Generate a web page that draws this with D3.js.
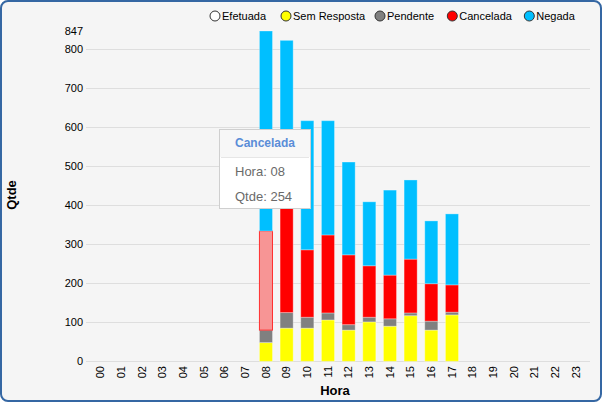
<!DOCTYPE html>
<html><head><meta charset="utf-8">
<script src="https://cdn.jsdelivr.net/npm/d3@7"></script>
<style>
html,body{margin:0;padding:0;background:#fff;}
svg{display:block;font-family:"Liberation Sans",Arial,sans-serif;}
</style></head>
<body><svg id="c" width="602" height="402"></svg>
<script>
const horas = ["00","01","02","03","04","05","06","07","08","09","10","11","12","13","14","15","16","17","18","19","20","21","22","23"];
const seriesNames = ["Efetuada","Sem Resposta","Pendente","Cancelada","Negada"];
const seriesColors = ["#ffffff","#ffff00","#808080","#ff0000","#00bfff"];
const efetuada    = [0,0,0,0,0,0,0,0,  0,  0,  0,  0,  0,  0,  0,  0,  0,  0,0,0,0,0,0,0];
const semResposta = [0,0,0,0,0,0,0,0, 48, 85, 85,106, 80,101, 90,117, 80,119,0,0,0,0,0,0];
const pendente    = [0,0,0,0,0,0,0,0, 32, 40, 28, 18, 14, 12, 19,  7, 23,  7,0,0,0,0,0,0];
const cancelada   = [0,0,0,0,0,0,0,0,254,360,173,200,179,132,112,138, 96, 70,0,0,0,0,0,0];
const negada      = [0,0,0,0,0,0,0,0,513,338,331,293,238,164,218,203,161,182,0,0,0,0,0,0];
const yTicks = [0,100,200,300,400,500,600,700,800];
const yMax = 847;
const tooltip = {series:"Cancelada", hora:"08", qtde:254};

const svg = d3.select("#c");
// frame
svg.append("rect").attr("x",1).attr("y",1).attr("width",600).attr("height",400)
  .attr("rx",7).attr("ry",7).attr("fill","#f5f5f5").attr("stroke","#3567a3").attr("stroke-width",2);

const x = d3.scaleBand().domain(horas).range([90.3,586.3]).paddingInner(0.32).paddingOuter(0.16);
const y = d3.scaleLinear().domain([0,yMax]).range([361.3,31]);

// grid
svg.append("g").selectAll("line").data(yTicks).join("line")
  .attr("x1",86).attr("x2",590).attr("y1",d=>Math.round(y(d))+0.5).attr("y2",d=>Math.round(y(d))+0.5)
  .attr("stroke","#dedede").attr("stroke-width",1);

// y axis labels
const yAxis = d3.axisLeft(y).tickValues(yTicks.concat([yMax])).tickSize(0).tickPadding(0).tickFormat(d3.format("d"));
const gy = svg.append("g").attr("transform","translate(83,0)").call(yAxis);
gy.select(".domain").remove();
gy.selectAll("text").attr("font-size",11).attr("fill","#000").attr("font-family","Liberation Sans, Arial, sans-serif");

// x axis labels
const xAxis = d3.axisBottom(x).tickSize(0).tickPadding(0);
const gx = svg.append("g").attr("transform","translate(0,366)").call(xAxis);
gx.select(".domain").remove();
gx.selectAll("text").attr("font-size",11).attr("fill","#000").attr("font-family","Liberation Sans, Arial, sans-serif")
  .attr("text-anchor","end").attr("dy","0.35em").attr("y",0).attr("transform","rotate(-90)").attr("x",0);

// stacked data
const table = horas.map((h,i)=>({hora:h,"Efetuada":efetuada[i],"Sem Resposta":semResposta[i],"Pendente":pendente[i],"Cancelada":cancelada[i],"Negada":negada[i]}));
const stack = d3.stack().keys(seriesNames)(table);
const color = d3.scaleOrdinal().domain(seriesNames).range(seriesColors);

stack.forEach(layer=>{
  svg.append("g").selectAll("rect").data(layer.filter(d=>d[1]-d[0]>0)).join("rect")
    .attr("x",d=>x(d.data.hora)+0.5)
    .attr("width",x.bandwidth()-1)
    .attr("y",d=>y(d[1]))
    .attr("height",d=>y(d[0])-y(d[1]))
    .attr("fill",d=>{
      if(layer.key===tooltip.series && d.data.hora===tooltip.hora) return "#f79595";
      return color(layer.key);
    })
    .attr("stroke",d=>{
      if(layer.key===tooltip.series && d.data.hora===tooltip.hora) return "#ff3030";
      return "rgba(255,255,255,0.3)";
    })
    .attr("stroke-width",1);
});

// legend
const legX = [215,286,380,452.3,529.3];
const leg = svg.append("g");
seriesNames.forEach((n,i)=>{
  leg.append("circle").attr("cx",legX[i]).attr("cy",16).attr("r",5)
    .attr("fill",seriesColors[i]).attr("stroke","#333").attr("stroke-width",1);
  leg.append("text").attr("x",legX[i]+7).attr("y",16).attr("dy","0.35em")
    .attr("font-size",11).attr("fill","#000").text(n);
});

// axis titles
svg.append("text").attr("transform","translate(16,195) rotate(-90)").attr("text-anchor","middle")
  .attr("font-size",13).attr("font-weight","bold").attr("fill","#000").text("Qtde");
svg.append("text").attr("x",335).attr("y",395).attr("text-anchor","middle")
  .attr("font-size",13).attr("font-weight","bold").attr("fill","#000").text("Hora");

// tooltip
const tt = svg.append("g");
tt.append("rect").attr("x",219.5).attr("y",129.5).attr("width",91).attr("height",79)
  .attr("fill","#ffffff").attr("stroke","#cfcfcf").attr("stroke-width",1);
tt.append("rect").attr("x",220).attr("y",130).attr("width",90).attr("height",27).attr("fill","#f7f7f7");
tt.append("line").attr("x1",221).attr("x2",309).attr("y1",157.5).attr("y2",157.5).attr("stroke","#e6e6e6");
tt.append("text").attr("x",265).attr("y",143).attr("dy","0.35em").attr("text-anchor","middle")
  .attr("font-size",12).attr("font-weight","bold").attr("fill","#5a8dd8").text(tooltip.series);
tt.append("text").attr("x",235).attr("y",171).attr("dy","0.35em")
  .attr("font-size",13).attr("fill","#6a6a6a").text("Hora: "+tooltip.hora);
tt.append("text").attr("x",235).attr("y",196).attr("dy","0.35em")
  .attr("font-size",13).attr("fill","#6a6a6a").text("Qtde: "+tooltip.qtde);
</script></body></html>
